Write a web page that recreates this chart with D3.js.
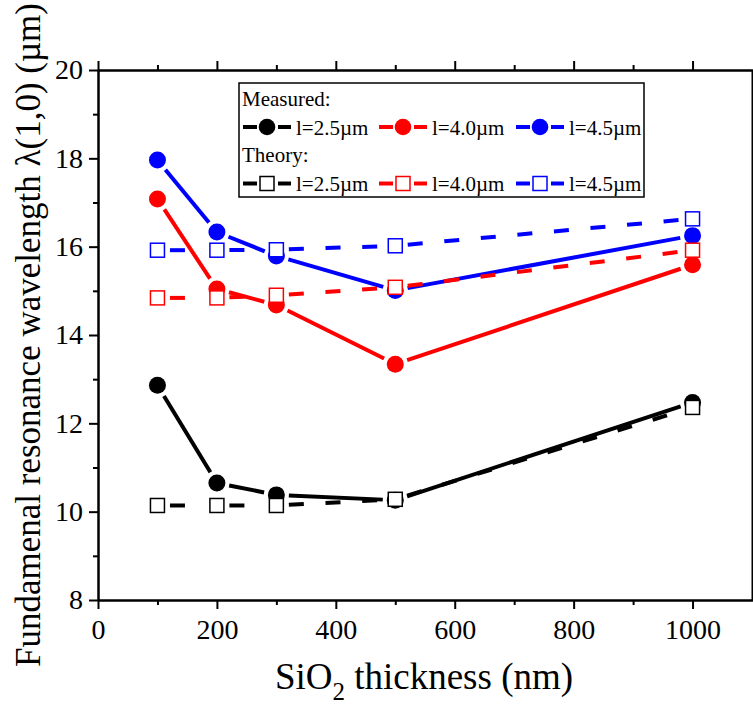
<!DOCTYPE html>
<html>
<head>
<meta charset="utf-8">
<script src="https://cdn.jsdelivr.net/npm/d3@7"></script>
<style>
  html, body { margin: 0; padding: 0; background: #fff; }
  svg { display: block; }
  svg text { font-family: 'Liberation Serif', 'Times New Roman', serif !important; fill: #000; }
</style>
</head>
<body>
<svg id="chart" width="753" height="713"></svg>
<script>
// SiO2 thickness (nm)
const thickness = [100, 200, 300, 500, 1000];

// Measured fundamental resonance wavelength (µm)
const measured25 = [12.86, 10.65, 10.38, 10.26, 12.47];
const measured40 = [17.08, 15.04, 14.68, 13.34, 15.59];
const measured45 = [17.96, 16.33, 15.79, 15.01, 16.25];

// Theoretical fundamental resonance wavelength (µm)
const theory25 = [10.14, 10.14, 10.14, 10.28, 12.36];
const theory40 = [14.84, 14.84, 14.90, 15.08, 15.92];
const theory45 = [15.92, 15.92, 15.93, 16.02, 16.63];

const seriesLabels = ["l=2.5\u00b5m", "l=4.0\u00b5m", "l=4.5\u00b5m"];
const seriesColors = ["#000000", "#ff0000", "#0000ff"];

const xMajorTicks = [0, 200, 400, 600, 800, 1000];
const xMinorTicks = [100, 300, 500, 700, 900];
const yMajorTicks = [8, 10, 12, 14, 16, 18, 20];
const yMinorTicks = [9, 11, 13, 15, 17, 19];

const FONT = "'Liberation Serif', 'Times New Roman', serif";

const svg = d3.select("#chart");
const m = { left: 98, right: 752, top: 70, bottom: 600 };

const x = d3.scaleLinear().domain([0, 1100]).range([m.left, m.right]);
const y = d3.scaleLinear().domain([8, 20]).range([m.bottom, m.top]);

// ---- axes ----
function styleAxis(g) {
  g.attr("font-family", FONT).attr("font-size", 28);
  g.select(".domain").attr("stroke", "#000").attr("stroke-width", 2);
  g.selectAll(".tick line").attr("stroke", "#000").attr("stroke-width", 2);
  g.selectAll("text").attr("font-family", FONT).style("font-size", "28px").attr("fill", "#000");
}

svg.append("g").attr("transform", `translate(0,${m.bottom})`)
  .call(d3.axisBottom(x).tickValues(xMajorTicks).tickSize(9).tickPadding(10).tickSizeOuter(0).tickFormat(d3.format("d")))
  .call(styleAxis);
svg.append("g").attr("transform", `translate(0,${m.bottom})`)
  .call(d3.axisBottom(x).tickValues(xMinorTicks).tickSize(5).tickSizeOuter(0).tickFormat(""))
  .call(styleAxis);

svg.append("g").attr("transform", `translate(0,${m.top})`)
  .call(d3.axisTop(x).tickValues(xMajorTicks).tickSize(9).tickSizeOuter(0).tickFormat(""))
  .call(styleAxis);
svg.append("g").attr("transform", `translate(0,${m.top})`)
  .call(d3.axisTop(x).tickValues(xMinorTicks).tickSize(5).tickSizeOuter(0).tickFormat(""))
  .call(styleAxis);

svg.append("g").attr("transform", `translate(${m.left},0)`)
  .call(d3.axisLeft(y).tickValues(yMajorTicks).tickSize(9).tickPadding(6).tickSizeOuter(0).tickFormat(d3.format("d")))
  .call(styleAxis);
svg.append("g").attr("transform", `translate(${m.left},0)`)
  .call(d3.axisLeft(y).tickValues(yMinorTicks).tickSize(5).tickSizeOuter(0).tickFormat(""))
  .call(styleAxis);

svg.append("g").attr("transform", `translate(${m.right},0)`)
  .call(d3.axisRight(y).tickValues(yMajorTicks).tickSize(9).tickSizeOuter(0).tickFormat(""))
  .call(styleAxis);

// ---- axis titles ----
const xTitle = svg.append("text")
  .attr("x", (275 + 573) / 2).attr("y", 689)
  .attr("text-anchor", "middle")
  .attr("font-family", FONT)
  .style("font-size", "37px");
xTitle.append("tspan").text("SiO");
xTitle.append("tspan").attr("dy", 11).style("font-size", "25px").text("2");
xTitle.append("tspan").attr("dy", -11).text(" thickness (nm)");

svg.append("text")
  .attr("transform", "translate(40,335) rotate(-90)")
  .attr("text-anchor", "middle")
  .attr("font-family", FONT)
  .style("font-size", "35px")
  .text("Fundamenal resonance wavelength \u03bb(1,0) (\u00b5m)");

// ---- data lines, with small gaps around each symbol ----
const gap = 12.5;
const dash = "15,21.7";

function drawSeries(values, color, dashed) {
  const pts = thickness.map((t, i) => [x(t), y(values[i])]);
  const g = svg.append("g");
  for (let i = 0; i < pts.length - 1; i++) {
    const [x0, y0] = pts[i], [x1, y1] = pts[i + 1];
    const len = Math.hypot(x1 - x0, y1 - y0);
    if (len <= 2 * gap) continue;
    const ux = (x1 - x0) / len, uy = (y1 - y0) / len;
    g.append("line")
      .attr("x1", x0 + ux * gap).attr("y1", y0 + uy * gap)
      .attr("x2", x1 - ux * gap).attr("y2", y1 - uy * gap)
      .attr("stroke", color).attr("stroke-width", 4)
      .attr("stroke-dasharray", dashed ? dash : null);
  }
}

const measured = [measured25, measured40, measured45];
const theory = [theory25, theory40, theory45];

measured.forEach((v, i) => drawSeries(v, seriesColors[i], false));
theory.forEach((v, i) => drawSeries(v, seriesColors[i], true));

// ---- symbols ----
measured.forEach((v, i) => {
  svg.append("g").selectAll("circle").data(thickness).join("circle")
    .attr("cx", d => x(d))
    .attr("cy", (d, j) => y(v[j]))
    .attr("r", 8.5)
    .attr("fill", seriesColors[i]);
});
const sq = 14;
theory.forEach((v, i) => {
  svg.append("g").selectAll("rect").data(thickness).join("rect")
    .attr("x", d => x(d) - sq / 2)
    .attr("y", (d, j) => y(v[j]) - sq / 2)
    .attr("width", sq).attr("height", sq)
    .attr("fill", "#fff")
    .attr("stroke", seriesColors[i]).attr("stroke-width", 1.5);
});

// ---- legend ----
const lg = svg.append("g").attr("font-family", FONT);
lg.append("rect")
  .attr("x", 239).attr("y", 83).attr("width", 405).attr("height", 114)
  .attr("fill", "#fff").attr("stroke", "#000").attr("stroke-width", 1.5);

lg.append("text").attr("x", 242).attr("y", 106).style("font-size", "21px").text("Measured:");
lg.append("text").attr("x", 242).attr("y", 162).style("font-size", "21px").text("Theory:");

const legendX = [243, 379, 516];
function legendEntry(x0, cy, color, label, kind) {
  lg.append("line").attr("x1", x0).attr("x2", x0 + 14).attr("y1", cy).attr("y2", cy)
    .attr("stroke", color).attr("stroke-width", 4);
  lg.append("line").attr("x1", x0 + 35).attr("x2", x0 + 48).attr("y1", cy).attr("y2", cy)
    .attr("stroke", color).attr("stroke-width", 4);
  if (kind === "circle") {
    lg.append("circle").attr("cx", x0 + 24).attr("cy", cy).attr("r", 8.3).attr("fill", color);
  } else {
    lg.append("rect").attr("x", x0 + 24 - 7).attr("y", cy - 7).attr("width", 14).attr("height", 14)
      .attr("fill", "#fff").attr("stroke", color).attr("stroke-width", 1.5);
  }
  lg.append("text").attr("x", x0 + 53).attr("y", cy + 7.5).style("font-size", "21px").text(label);
}
seriesLabels.forEach((lab, i) => {
  legendEntry(legendX[i], 127, seriesColors[i], lab, "circle");
  legendEntry(legendX[i], 183.5, seriesColors[i], lab, "square");
});
</script>
</body>
</html>
